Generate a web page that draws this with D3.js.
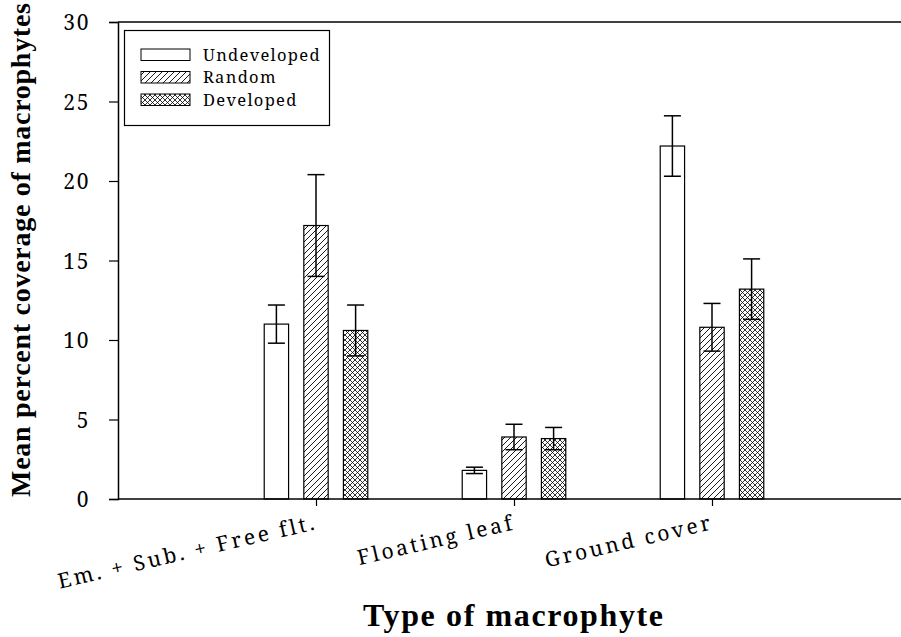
<!DOCTYPE html>
<html>
<head>
<meta charset="utf-8">
<script src="https://cdn.jsdelivr.net/npm/d3@7"></script>
<style>
  html, body { margin: 0; padding: 0; background: #fff; }
  svg { display: block; }
</style>
</head>
<body>
<script>
// Macrophyte coverage by shoreline development class
const categories = ["Em. + Sub. + Free flt.", "Floating leaf", "Ground cover"];
const seriesNames = ["Undeveloped", "Random", "Developed"];
const undeveloped = [11.0, 1.8, 22.2];
const undevelopedErr = [1.2, 0.2, 1.9];
const random = [17.2, 3.9, 10.8];
const randomErr = [3.2, 0.8, 1.5];
const developed = [10.6, 3.8, 13.2];
const developedErr = [1.6, 0.7, 1.9];
const yTicks = [0, 5, 10, 15, 20, 25, 30];

const BODY_FONT = "'Noto Serif', serif";
const TITLE_FONT = "'Liberation Serif', 'Times New Roman', serif";

const series = [
  { name: seriesNames[0], values: undeveloped, errs: undevelopedErr, fill: "#fff" },
  { name: seriesNames[1], values: random, errs: randomErr, fill: "url(#hatch)" },
  { name: seriesNames[2], values: developed, errs: developedErr, fill: "url(#cross)" }
];

const W = 901, H = 637;
const svg = d3.select("body").append("svg").attr("width", W).attr("height", H)
  .style("font-family", BODY_FONT);

// Fill patterns
const defs = svg.append("defs");
const hatch = defs.append("pattern").attr("id", "hatch")
  .attr("patternUnits", "userSpaceOnUse").attr("width", 6).attr("height", 6);
hatch.append("rect").attr("width", 6).attr("height", 6).attr("fill", "#fff");
hatch.append("path").attr("d", "M-1,7 L7,-1 M-4,4 L4,-4 M2,10 L10,2")
  .attr("stroke", "#000").attr("stroke-width", 0.9);

const cross = defs.append("pattern").attr("id", "cross")
  .attr("patternUnits", "userSpaceOnUse").attr("width", 5).attr("height", 5);
cross.append("rect").attr("width", 5).attr("height", 5).attr("fill", "#fff");
cross.append("path").attr("d", "M-1,6 L6,-1 M-1,-1 L6,6 M-3.5,3.5 L3.5,-3.5 M1.5,8.5 L8.5,1.5 M-3.5,1.5 L3.5,8.5 M1.5,-3.5 L8.5,3.5")
  .attr("stroke", "#000").attr("stroke-width", 0.8);

// Scales: categories sit at positions 1..3 on a 0..4 axis
const x = d3.scaleLinear().domain([0, 4]).range([118, 910]);
const y = d3.scaleLinear().domain([0, 30]).range([499, 22]);
const barOffset = 0.2;     // in category units
const barWidth = x(0.123) - x(0);

// Frame top line
svg.append("line").attr("x1", x(0)).attr("x2", x(4)).attr("y1", y(30)).attr("y2", y(30))
  .attr("stroke", "#000").attr("stroke-width", 1.5);

// Y axis
const yAxis = d3.axisLeft(y).tickValues(yTicks).tickSize(9).tickPadding(19).tickFormat(d3.format("d"));
const gy = svg.append("g").attr("transform", `translate(${x(0)},0)`).call(yAxis);
gy.attr("font-family", null).attr("font-size", null);
gy.select(".domain").attr("stroke-width", 1.5);
gy.selectAll(".tick line").attr("stroke-width", 1.2);
gy.selectAll(".tick text").style("font-family", BODY_FONT).style("font-size", "21px")
  .attr("letter-spacing", 1.6).attr("dy", "0.36em").attr("fill", "#000");

// Bars
series.forEach((s, si) => {
  const g = svg.append("g");
  g.selectAll("rect").data(s.values).join("rect")
    .attr("x", (d, i) => x(i + 1 + (si - 1) * barOffset) - barWidth / 2)
    .attr("y", d => y(d))
    .attr("width", barWidth)
    .attr("height", d => y(0) - y(d))
    .attr("fill", s.fill)
    .attr("stroke", "#000").attr("stroke-width", 1.2);
});

// Error bars
const capHalf = 8.5;
series.forEach((s, si) => {
  const g = svg.append("g").attr("stroke", "#000").attr("stroke-width", 1.5);
  s.values.forEach((v, i) => {
    const cx = x(i + 1 + (si - 1) * barOffset);
    const lo = y(v - s.errs[i]), hi = y(v + s.errs[i]);
    g.append("line").attr("x1", cx).attr("x2", cx).attr("y1", lo).attr("y2", hi);
    g.append("line").attr("x1", cx - capHalf).attr("x2", cx + capHalf).attr("y1", hi).attr("y2", hi);
    g.append("line").attr("x1", cx - capHalf).attr("x2", cx + capHalf).attr("y1", lo).attr("y2", lo);
  });
});

// X axis
const xAxis = d3.axisBottom(x).tickValues([1, 2, 3]).tickSize(7).tickFormat("");
const gx = svg.append("g").attr("transform", `translate(0,${y(0)})`).call(xAxis);
gx.select(".domain").attr("stroke-width", 1.5).attr("d", `M${x(0)},0H${x(4)}`);
gx.selectAll(".tick line").attr("stroke-width", 1.2);

// Rotated category labels
svg.append("g").selectAll("text").data(categories).join("text")
  .attr("transform", (d, i) => `translate(${x(i + 1) + 2},529) rotate(-13)`)
  .attr("text-anchor", "end")
  .style("font-family", BODY_FONT).style("font-size", "21px")
  .attr("letter-spacing", 2.8)
  .text(d => d);

// Axis titles
svg.append("text")
  .attr("transform", "translate(30,250) rotate(-90)")
  .attr("text-anchor", "middle")
  .style("font-family", TITLE_FONT).style("font-size", "28px").style("font-weight", "bold")
  .attr("textLength", 494).attr("lengthAdjust", "spacing")
  .text("Mean percent coverage of macrophytes");

svg.append("text")
  .attr("x", 513).attr("y", 626)
  .attr("text-anchor", "middle")
  .style("font-family", TITLE_FONT).style("font-size", "32px").style("font-weight", "bold")
  .attr("textLength", 300).attr("lengthAdjust", "spacing")
  .text("Type of macrophyte");

// Legend
const legend = svg.append("g");
legend.append("rect").attr("x", 124.5).attr("y", 30.5).attr("width", 205).attr("height", 95)
  .attr("fill", "#fff").attr("stroke", "#000").attr("stroke-width", 1.2);
series.forEach((s, i) => {
  const ly = 49 + i * 22.5;
  legend.append("rect").attr("x", 141).attr("y", ly).attr("width", 49).attr("height", 11.5)
    .attr("fill", s.fill).attr("stroke", "#000").attr("stroke-width", 1);
  legend.append("text").attr("x", 203).attr("y", ly + 11.5)
    .style("font-family", BODY_FONT).style("font-size", "16.5px")
    .attr("letter-spacing", 1.3)
    .text(s.name);
});
</script>
</body>
</html>
